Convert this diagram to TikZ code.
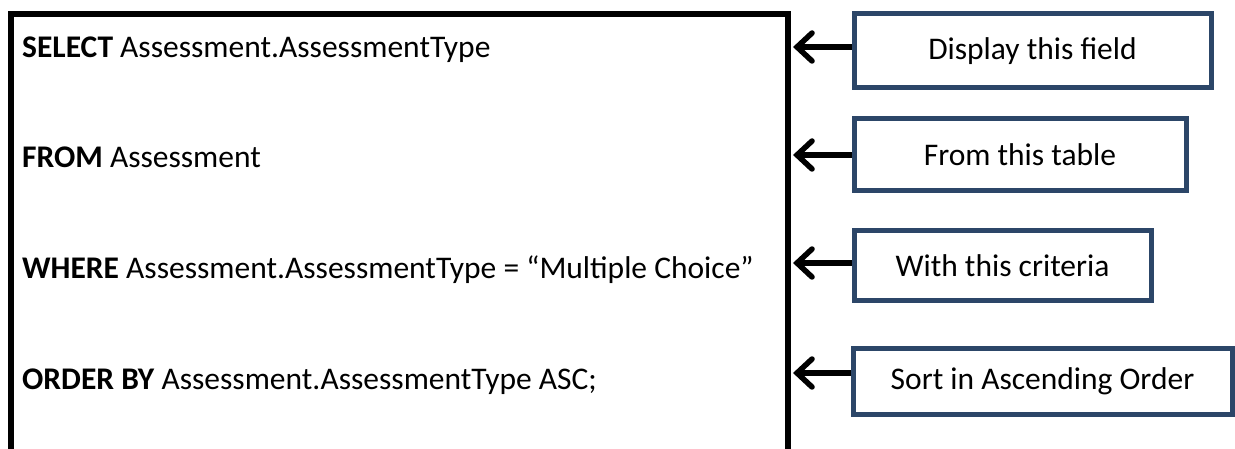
\documentclass[tikz,border=0pt]{standalone}
\usepackage{fontspec}
\setmainfont{Carlito}
\usetikzlibrary{arrows.meta}
\definecolor{boxblue}{RGB}{44,70,104}
\tikzset{
  x=1pt,y=1pt,
  sql/.style={anchor=base west,inner sep=0pt,font=\fontsize{31.5}{36}\selectfont},
  note/.style={draw=boxblue,line width=5pt,inner sep=0pt,font=\fontsize{31.5}{36}\selectfont},
  arr/.style={line width=5.5pt,-{Straight Barb[length=15pt,width=28pt,line width=5.5pt,line cap=round]}},
}
\begin{document}
\begin{tikzpicture}
\useasboundingbox (0,0) rectangle (1235,-449);
\draw[line width=5.5pt] (11,-452) -- (11,-14) -- (788,-14) -- (788,-452);
\node[sql] (s1) at (22,-58) {\textbf{SELECT} Assessment.AssessmentType};
\node[sql] (s2) at (22,-168) {\textbf{FROM} Assessment};
\node[sql] (s3) at (22,-279) {\textbf{WHERE} Assessment.AssessmentType = “Multiple Choice”};
\node[sql] (s4) at (22,-389) {\textbf{ORDER BY} Assessment.AssessmentType ASC;};
\node[note,minimum width=357pt,minimum height=74pt] (b1) at (1032.5,-51) {Display this field};
\node[note,minimum width=332pt,minimum height=72pt] (b2) at (1020,-155) {From this table};
\node[note,minimum width=297pt,minimum height=70pt] (b3) at (1002.5,-266) {With this criteria};
\node[note,minimum width=379pt,minimum height=66pt] (b4) at (1042.5,-381) {Sort in Ascending Order};
\coordinate (a1) at (793,-47);
\coordinate (a2) at (793,-155);
\coordinate (a3) at (793,-263);
\coordinate (a4) at (793,-373);
\draw[arr] (b1.west |- a1) -- (a1);
\draw[arr] (b2.west |- a2) -- (a2);
\draw[arr] (b3.west |- a3) -- (a3);
\draw[arr] (b4.west |- a4) -- (a4);
\end{tikzpicture}
\end{document}
